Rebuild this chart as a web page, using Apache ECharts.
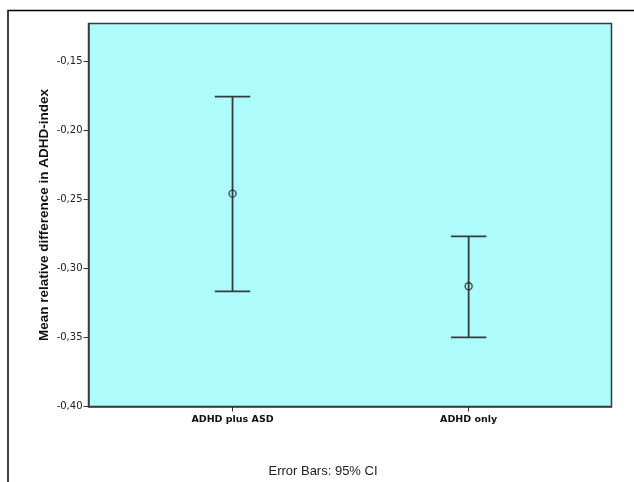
<!DOCTYPE html>
<html>
<head>
<meta charset="utf-8">
<script src="https://cdn.jsdelivr.net/npm/echarts@6/dist/echarts.min.js"></script>
<style>html,body{margin:0;padding:0;background:#fff}#c{width:634px;height:482px}</style>
</head>
<body>
<div id="c"></div>
<script>
var categories = ['ADHD plus ASD', 'ADHD only'];
var means = [-0.246, -0.313];
var lowerCI = [-0.3167, -0.350];
var upperCI = [-0.1758, -0.2769];
var yTicks = [-0.40, -0.35, -0.30, -0.25, -0.20, -0.15];
var yTitle = 'Mean relative difference in ADHD-index';
var footnote = 'Error Bars: 95% CI';

var catPos = categories.map(function (c, i) { return i + 1; });
var barData = categories.map(function (c, i) { return [catPos[i], lowerCI[i], upperCI[i]]; });
var meanData = categories.map(function (c, i) { return [catPos[i], means[i]]; });

var chart = echarts.init(document.getElementById('c'), null, {renderer: 'canvas'});
var lineColor = '#333d3d';
chart.setOption({
  animation: false,
  backgroundColor: '#ffffff',
  grid: {
    left: 88.5, right: 22.5, top: 23.5, bottom: 75.5,
    show: true, backgroundColor: '#aefbfc', borderColor: '#3a3a3a', borderWidth: 1.5
  },
  xAxis: {
    type: 'value', min: 0.39, max: 2.605,
    axisLine: {show: true, lineStyle: {color: '#3a3a3a', width: 1.5}},
    splitLine: {show: false},
    axisTick: {show: true, length: 5, customValues: catPos, lineStyle: {color: '#333', width: 1}},
    axisLabel: {
      customValues: catPos, margin: 8,
      formatter: function (v) { return categories[Math.round(v) - 1] || ''; },
      fontFamily: 'DejaVu Sans', fontWeight: 'bold', fontSize: 9.5, color: '#111'
    }
  },
  yAxis: {
    type: 'value', min: -0.40, max: -0.1229,
    name: yTitle, nameLocation: 'middle', nameGap: 37, nameMoveOverlap: false,
    nameTextStyle: {fontFamily: 'Liberation Sans', fontWeight: 'bold', fontSize: 13.5, color: '#111'},
    axisLine: {show: true, lineStyle: {color: '#3a3a3a', width: 1.5}},
    splitLine: {show: false},
    axisTick: {show: true, length: 5, customValues: yTicks, lineStyle: {color: '#333', width: 1}},
    axisLabel: {
      customValues: yTicks, margin: 6,
      formatter: function (v) { return v.toFixed(2).replace('.', ','); },
      fontFamily: 'DejaVu Sans', fontSize: 10, color: '#222'
    }
  },
  series: [
    {
      type: 'custom',
      data: barData,
      encode: {x: 0, y: [1, 2]},
      renderItem: function (params, api) {
        var x = api.value(0);
        var lo = api.coord([x, api.value(1)]);
        var hi = api.coord([x, api.value(2)]);
        var hw = 17.7;
        var st = {stroke: lineColor, lineWidth: 1.8};
        return {
          type: 'group',
          children: [
            {type: 'line', shape: {x1: lo[0], y1: lo[1], x2: hi[0], y2: hi[1]}, style: st},
            {type: 'line', shape: {x1: lo[0] - hw, y1: lo[1], x2: lo[0] + hw, y2: lo[1]}, style: st},
            {type: 'line', shape: {x1: hi[0] - hw, y1: hi[1], x2: hi[0] + hw, y2: hi[1]}, style: st}
          ]
        };
      },
      z: 2
    },
    {
      type: 'scatter',
      data: meanData,
      symbol: 'circle', symbolSize: 7,
      itemStyle: {color: 'rgba(0,0,0,0)', borderColor: '#222', borderWidth: 1.4},
      z: 3
    }
  ],
  graphic: [
    {type: 'rect', x: 8, y: 10.5, shape: {x: 0, y: 0, width: 640, height: 500}, style: {fill: 'none', stroke: '#000', lineWidth: 1.5}, silent: true, z: -1},
    {type: 'text', x: 323, y: 471, style: {text: footnote, fontFamily: 'Liberation Sans', fontSize: 13, fill: '#222', align: 'center', verticalAlign: 'middle'}}
  ]
});
</script>
</body>
</html>
